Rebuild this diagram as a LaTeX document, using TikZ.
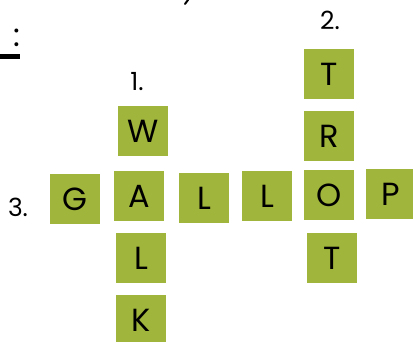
\documentclass[tikz,border=0pt]{standalone}
\usepackage{fontspec}
\setmainfont{Poppins}
\usepackage{xcolor}
\usetikzlibrary{positioning}
\definecolor{tilegreen}{RGB}{160,181,59}

\begin{document}
\begin{tikzpicture}[x=1pt, y=-1pt,
    tile/.style={rectangle, fill=tilegreen, minimum size=50pt, inner sep=0pt, font=\fontsize{32}{32}\selectfont},
    clue/.style={inner sep=0pt, font=\fontsize{25}{25}\selectfont}
]
    \useasboundingbox (0,0) rectangle (413,342);

    % across: GALLOP
    \node (g) [tile] at (75,199) {G};
    \node (a) [tile] at (139,196) {A};
    \node (l1) [tile] at (204,198) {L};
    \node (l2) [tile] at (267,196) {L};
    \node (o) [tile] at (329,195) {O};
    \node (p) [tile] at (391,194) {P};

    % down: WALK
    \node (w) [tile, above of=a, node distance=65pt, xshift=4pt] {W};
    \node (lw) [tile, below of=a, node distance=62pt, xshift=2pt] {L};
    \node (k) [tile, below of=lw, node distance=62pt] {K};

    % down: TROT
    \node (r) [tile, above of=o, node distance=59pt] {R};
    \node (t1) [tile, above of=r, node distance=62pt] {T};
    \node (t2) [tile, below of=o, node distance=63pt, xshift=3pt] {T};

    % clue numbers
    \node (n1) [clue] at (137,82) {1.};
    \node (n2) [clue] at (330,20) {2.};
    \node (n3) [clue] at (18,207) {3.};

    % cut-off bits at the edges
    \node (colon) [inner sep=0pt, font=\fontsize{32}{32}\selectfont] at (17,38) {:};
    \fill (0,54) rectangle (20,59);
    \draw [line width=2pt, line cap=round] (188,0) -- (185,4);
\end{tikzpicture}
\end{document}
